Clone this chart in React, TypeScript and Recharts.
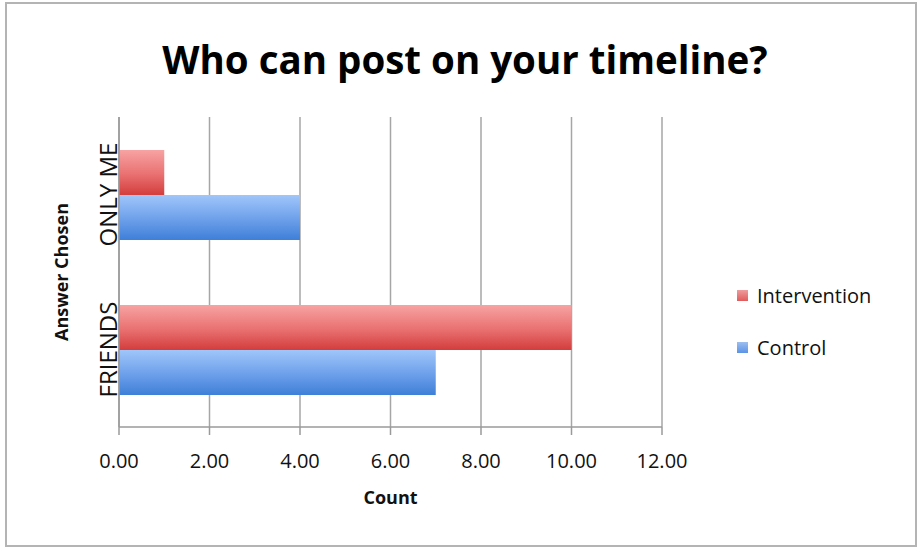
import { BarChart, Bar, XAxis, YAxis, CartesianGrid, Label } from "recharts";

const categories = ["ONLY ME", "FRIENDS"];
const intervention = [1, 10];
const control = [4, 7];
const countTicks = [0, 2, 4, 6, 8, 10, 12];
const bandEdges = [0, 1, 2];

const data = categories.map((name, i) => ({
  name,
  intervention: intervention[i],
  control: control[i],
}));

const FONT = "'Open Sans', sans-serif";
const AXIS_GREY = "#9a9a9a";

function CategoryTick({ x, y, payload }: { x?: number; y?: number; payload?: { value: string } }) {
  return (
    <text
      transform={`translate(${(x ?? 0) + 8}, ${y ?? 0}) rotate(-90)`}
      textAnchor="middle"
      fontSize={24}
      fontFamily={FONT}
      fill="#111"
    >
      {payload?.value}
    </text>
  );
}

function LegendBox() {
  const items = [
    { label: "Intervention", solid: "#e25b5b" },
    { label: "Control", solid: "#5b93e6" },
  ];
  return (
    <div
      style={{
        position: "absolute",
        left: 737,
        top: 282,
        fontFamily: FONT,
        fontSize: 20,
        color: "#111",
      }}
    >
      {items.map((it) => (
        <div key={it.label} style={{ display: "flex", alignItems: "center", height: 26, marginBottom: 26 }}>
          <span
            style={{
              display: "inline-block",
              width: 11,
              height: 11,
              marginRight: 9,
              background: `linear-gradient(${it.solid}99, ${it.solid})`,
            }}
          />
          {it.label}
        </div>
      ))}
    </div>
  );
}

export default function App() {
  return (
    <div style={{ position: "absolute", left: 0, top: 0, width: 918, height: 548, background: "#fff" }}>
      <div
        style={{
          position: "absolute",
          left: 5,
          top: 2,
          width: 912,
          height: 545,
          boxSizing: "border-box",
          border: "2px solid #b4b4b4",
        }}
      />
      <div
        style={{
          position: "absolute",
          left: 0,
          width: 930,
          top: 35,
          textAlign: "center",
          fontFamily: FONT,
          fontWeight: 700,
          fontSize: 38.5,
          color: "#000",
          lineHeight: "48px",
        }}
      >
        Who can post on your timeline?
      </div>
      <BarChart
        width={918}
        height={548}
        data={data}
        layout="vertical"
        margin={{ top: 117, right: 256, left: 40, bottom: 71 }}
        barCategoryGap={33}
        barGap={0}
        style={{ position: "absolute", left: 0, top: 0 }}
      >
        <defs>
          <linearGradient id="gradRed" x1="0" y1="0" x2="0" y2="1">
            <stop offset="0%" stopColor="#f7a3a3" />
            <stop offset="55%" stopColor="#e97070" />
            <stop offset="100%" stopColor="#d33d3d" />
          </linearGradient>
          <linearGradient id="gradBlue" x1="0" y1="0" x2="0" y2="1">
            <stop offset="0%" stopColor="#a0c6fa" />
            <stop offset="55%" stopColor="#6c9fea" />
            <stop offset="100%" stopColor="#3e7fd8" />
          </linearGradient>
        </defs>
        <CartesianGrid yAxisId="cat" horizontal={false} stroke="#a6a6a6" strokeWidth={1.5} />
        <XAxis
          type="number"
          domain={[0, 12]}
          ticks={countTicks}
          tickFormatter={(v: number) => v.toFixed(2)}
          tickSize={8}
          tickMargin={19}
          height={50}
          stroke={AXIS_GREY}
          strokeWidth={1.5}
          tick={{ fontSize: 20, fontFamily: FONT, fill: "#111" }}
        >
          <Label
            content={({ viewBox }: any) => (
              <text
                x={viewBox.x + viewBox.width / 2}
                y={504}
                textAnchor="middle"
                fontSize={18}
                fontWeight={700}
                fontFamily={FONT}
                fill="#111"
              >
                Count
              </text>
            )}
          />
        </XAxis>
        <YAxis
          yAxisId="a"
          type="number"
          domain={[0, 2]}
          ticks={bandEdges}
          tick={false}
          tickSize={8}
          width={10}
          stroke={AXIS_GREY}
          strokeWidth={1.5}
        />
        <YAxis
          yAxisId="cat"
          type="category"
          dataKey="name"
          axisLine={false}
          tickLine={false}
          tickSize={0}
          tickMargin={0}
          width={69}
          tick={<CategoryTick />}
        >
          <Label
            content={({ viewBox }: any) => (
              <text
                transform={`translate(${viewBox.x + 28}, ${viewBox.y + viewBox.height / 2}) rotate(-90)`}
                textAnchor="middle"
                fontSize={18}
                fontWeight={700}
                fontFamily={FONT}
                fill="#111"
              >
                Answer Chosen
              </text>
            )}
          />
        </YAxis>
        <Bar yAxisId="cat" dataKey="intervention" name="Intervention" fill="url(#gradRed)" isAnimationActive={false} />
        <Bar yAxisId="cat" dataKey="control" name="Control" fill="url(#gradBlue)" isAnimationActive={false} />
      </BarChart>
      <LegendBox />
    </div>
  );
}
